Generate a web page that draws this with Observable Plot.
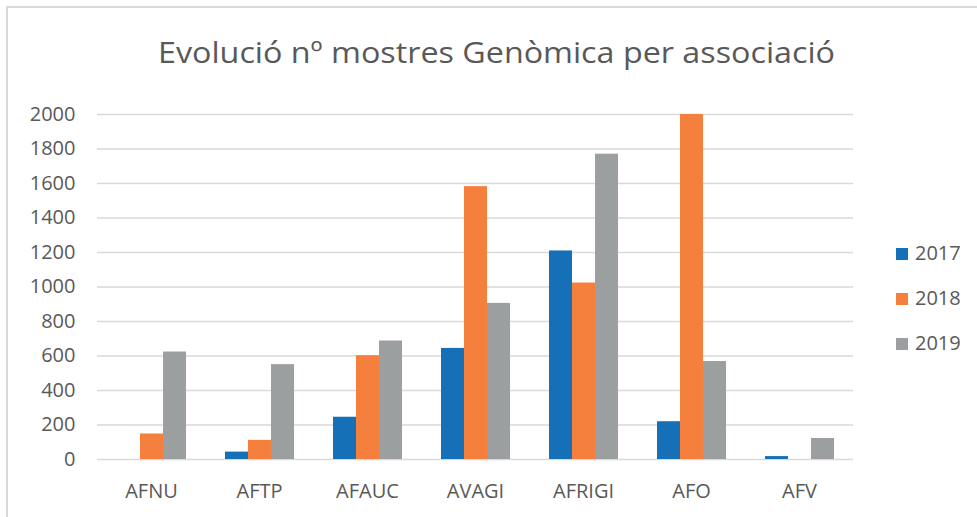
<!DOCTYPE html>
<html>
<head>
<meta charset="utf-8">
<script src="https://cdn.jsdelivr.net/npm/d3@7"></script>
<script src="https://cdn.jsdelivr.net/npm/@observablehq/plot@0.6"></script>
<style>
  html, body { margin: 0; padding: 0; background: #fff; }
  #wrap { position: relative; width: 977px; height: 517px; overflow: hidden; font-family: "Open Sans", sans-serif; color: #595959; }
  #frame { position: absolute; left: 6px; top: 6px; width: 1000px; height: 600px; border-left: 2px solid #d9d9d9; border-top: 2px solid #d9d9d9; box-sizing: border-box; }
  #title { position: absolute; left: 0; top: 0; }
  #chart { position: absolute; left: 0; top: 0; }
  #legend { position: absolute; left: 896px; top: 0; }
  .sw { position: absolute; width: 12px; height: 12px; }
  .lab { position: absolute; font-size: 20px; line-height: 20px; white-space: nowrap; }
</style>
</head>
<body>
<div id="wrap">
  <div id="frame"></div>
  <div id="chart"></div>
  <svg id="title" width="977" height="90"></svg>
  <div id="legend"></div>
</div>
<script>
const categories = ["AFNU", "AFTP", "AFAUC", "AVAGI", "AFRIGI", "AFO", "AFV"];
const years = ["2017", "2018", "2019"];
const values2017 = [0, 43, 245, 644, 1209, 219, 17];
const values2018 = [148, 111, 602, 1582, 1023, 2000, 0];
const values2019 = [623, 550, 687, 905, 1770, 568, 122];
const yTicks = [0, 200, 400, 600, 800, 1000, 1200, 1400, 1600, 1800, 2000];
const colors = ["#1570b8", "#f5803e", "#9c9fa0"];
const titleText = "Evolució nº mostres Genòmica per associació";

const series = [values2017, values2018, values2019];
const data = [];
categories.forEach((c, i) => {
  years.forEach((y, j) => {
    data.push({category: c, year: y, value: series[j][i]});
  });
});

const plot = Plot.plot({
  width: 977,
  height: 517,
  marginLeft: 96,
  marginRight: 124,
  marginTop: 114,
  marginBottom: 58,
  style: {fontFamily: "'Open Sans', sans-serif", fontSize: "20px", color: "#595959", background: "transparent", overflow: "visible"},
  fx: {domain: categories, paddingInner: 0, paddingOuter: 0, label: null, axis: "bottom", tickSize: 0, tickPadding: 24},
  x: {domain: years, paddingInner: 0, paddingOuter: 0.808, axis: null},
  y: {domain: [0, 2000], ticks: yTicks, label: null, tickSize: 0, tickPadding: 22, tickFormat: d => String(d)},
  color: {domain: years, range: colors},
  marks: [
    Plot.gridY(yTicks, {stroke: "#d9d9d9", strokeOpacity: 1, strokeWidth: 1.6}),
    Plot.barY(data, {fx: "category", x: "year", y: "value", fill: "year"})
  ]
});
document.getElementById("chart").appendChild(plot);

// Title
const t = d3.select("#title").append("text")
  .attr("x", 158).attr("y", 63)
  .attr("font-family", "'Open Sans', sans-serif")
  .attr("font-size", 30)
  .attr("fill", "#595959")
  .attr("textLength", 677)
  .attr("lengthAdjust", "spacingAndGlyphs")
  .text(titleText);

// Legend from the color scale
const cs = plot.scale("color");
const legend = document.getElementById("legend");
cs.domain.forEach((d, i) => {
  const cy = 254 + i * 45;
  const sw = document.createElement("div");
  sw.className = "sw";
  sw.style.left = "0px";
  sw.style.top = (cy - 6) + "px";
  sw.style.background = cs.range[i];
  legend.appendChild(sw);
  const lab = document.createElement("div");
  lab.className = "lab";
  lab.style.left = "19px";
  lab.style.top = (cy - 11) + "px";
  lab.textContent = d;
  legend.appendChild(lab);
});
</script>
</body>
</html>
